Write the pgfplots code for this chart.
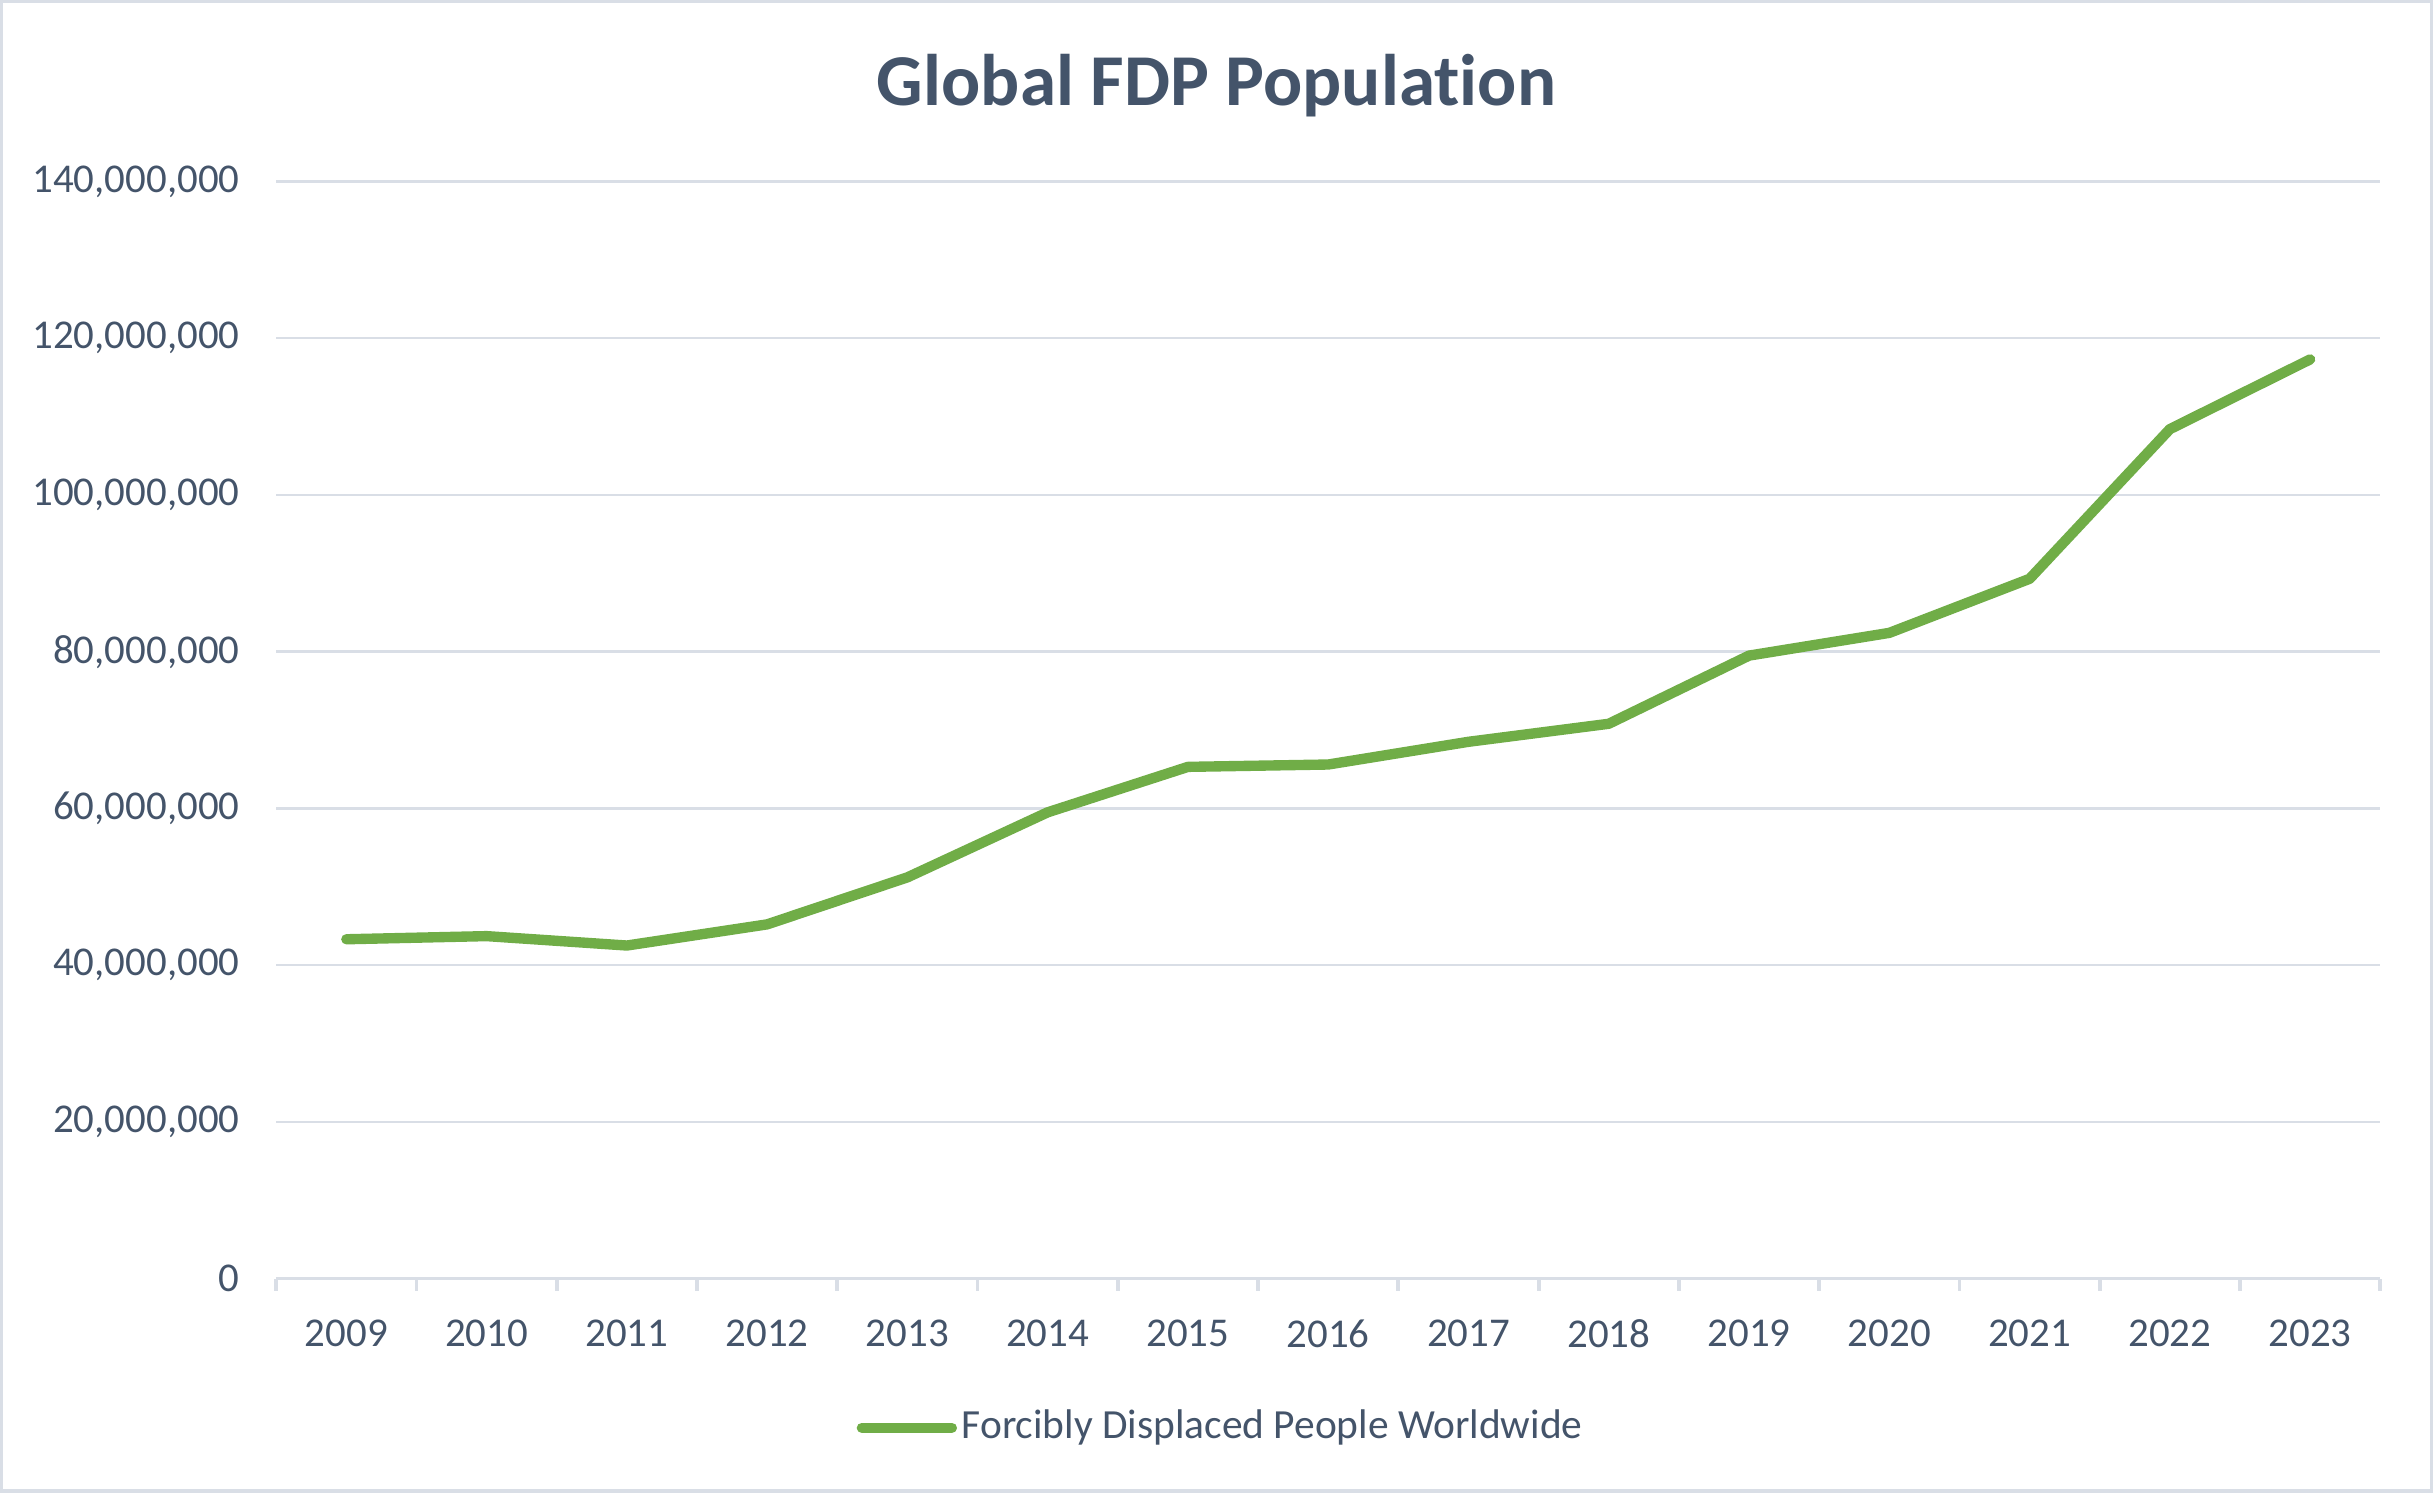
\documentclass[border=0pt]{standalone}
\usepackage{pgfplots}
\pgfplotsset{compat=1.18}
\usepackage{fontspec}
\setmainfont{Carlito}[Ligatures=NoCommon]
\definecolor{txt}{HTML}{44546A}
\definecolor{grd}{HTML}{D9DEE6}
\definecolor{ln}{HTML}{70AD47}
\definecolor{brd}{HTML}{D9DEE6}
\begin{document}
\begin{tikzpicture}[x=1mm,y=1mm]
\useasboundingbox (0,0) rectangle (156.8,96.2);
\draw[brd, line width=0.6pt] (0.1,0.1) rectangle (156.7,96.1);
\node[anchor=base, text=txt, font=\fontsize{13.4}{16}\selectfont\bfseries, inner sep=0pt] at (78.4,89.4) {Global FDP Population};
\begin{axis}[
  at={(17.8mm,13.8mm)}, anchor=south west,
  scale only axis, width=135.6mm, height=70.7mm,
  xmin=-0.5, xmax=14.5, ymin=0, ymax=140000000,
  xtick={0,1,2,3,4,5,6,7,8,9,10,11,12,13,14},
  xticklabels={2009,2010,2011,2012,2013,2014,2015,2016,2017,2018,2019,2020,2021,2022,2023},
  ytick={0,20000000,40000000,60000000,80000000,100000000,120000000,140000000},
  yticklabels={0,{20,000,000},{40,000,000},{60,000,000},{80,000,000},{100,000,000},{120,000,000},{140,000,000}},
  scaled y ticks=false,
  axis x line*=bottom, axis y line*=left,
  x axis line style={draw=grd, line width=0.7pt, -},
  y axis line style={draw=none},
  xtick style={draw=none}, ytick style={draw=none},
  ymajorgrids, grid style={grd, line width=0.45pt},
  extra x ticks={-0.5,0.5,1.5,2.5,3.5,4.5,5.5,6.5,7.5,8.5,9.5,10.5,11.5,12.5,13.5,14.5},
  extra x tick labels={},
  extra x tick style={xmajorgrids=false, xtick style={draw=grd, line width=0.7pt}, major tick length=0.8mm, tick align=outside},
  ticklabel style={text=txt, font=\fontsize{7.5}{9}\selectfont, inner sep=0pt},
  yticklabel style={anchor=east, xshift=-2.3mm},
  xticklabel style={anchor=north, yshift=-2.6mm},
  legend style={at={(0.4495,-0.136)}, anchor=center, draw=none, fill=none, inner sep=0pt,
    font=\fontsize{7.6}{9}\selectfont, text=txt, nodes={inner sep=0.3mm}},
  legend image code/.code={\draw[#1] (0mm,0mm) -- (5.8mm,0mm);},
]
\addplot[ln, line width=1.9pt, line join=round, line cap=round] coordinates {
(0,43300000) (1,43700000) (2,42500000) (3,45200000) (4,51200000)
(5,59500000) (6,65300000) (7,65600000) (8,68500000) (9,70800000)
(10,79500000) (11,82400000) (12,89300000) (13,108400000) (14,117300000)};
\legend{Forcibly Displaced People Worldwide}
\end{axis}
\end{tikzpicture}
\end{document}
